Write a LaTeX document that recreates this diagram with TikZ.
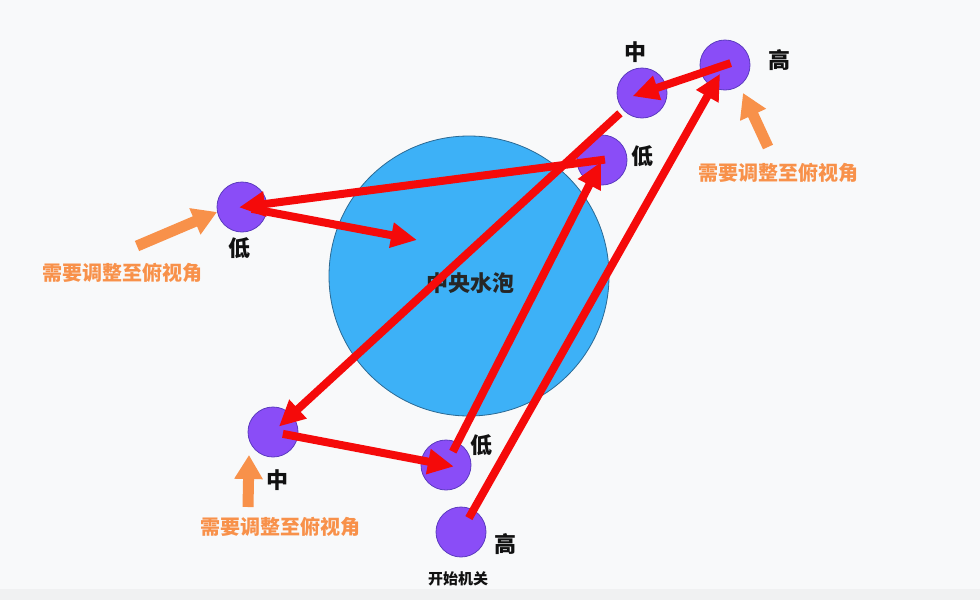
\documentclass[tikz,border=0pt]{standalone}
\usepackage{fontspec}
\newfontfamily\cjk{Noto Sans CJK SC}
\usetikzlibrary{arrows.meta}
\definecolor{bg}{HTML}{F8F9FA}
\definecolor{band}{HTML}{F0F1F2}
\definecolor{bubfill}{HTML}{3DB1F7}
\definecolor{bubline}{HTML}{2B6A94}
\definecolor{dotfill}{HTML}{8A4DF7}
\definecolor{dotline}{HTML}{5B3BBF}
\definecolor{arrred}{HTML}{F50A0A}
\definecolor{hintor}{HTML}{F8914A}
\definecolor{txt}{HTML}{111111}
\begin{document}
\begin{tikzpicture}[x=1pt,y=-1pt,
  dot/.style={circle,draw=dotline,fill=dotfill,line width=0.8pt,minimum size=50pt,inner sep=0pt},
  bubble/.style={circle,draw=bubline,fill=bubfill,line width=0.8pt,minimum size=280pt,inner sep=0pt},
  redarrow/.style={draw=arrred,line width=8pt,-{Triangle[length=26pt,width=24pt]}},
  hint/.style={draw=hintor,line width=11pt,-{Triangle[length=24pt,width=27pt]}},
  lbl/.style={text=txt,font=\cjk\bfseries\fontsize{22}{24}\selectfont,inner sep=0pt},
  hinttext/.style={text=hintor,font=\cjk\bfseries\fontsize{20}{22}\selectfont,inner sep=0pt},
  bubtext/.style={text=black!85,font=\cjk\bfseries\fontsize{22}{24}\selectfont,inner sep=0pt},
  starttext/.style={text=txt,font=\cjk\bfseries\fontsize{15}{17}\selectfont,inner sep=0pt}]
\useasboundingbox (0,0) rectangle (980,600);
\fill[bg] (0,0) rectangle (980,600);
\fill[band] (0,589) rectangle (980,600);

% central bubble
\node[bubble] (bub) at (469,276) {};
\node[bubtext] (bubt) at (470,283) {中央水泡};

% purple dots
\node[dot] (ht) at (725,65) {};
\node[dot] (mt) at (642,93) {};
\node[dot] (lur) at (602,160) {};
\node[dot] (ll) at (242,207) {};
\node[dot] (ml) at (273,432) {};
\node[dot] (lb) at (446,465) {};
\node[dot] (hb) at (461,532) {};

% labels
\node[lbl] (htl) at (779,60) {高};
\node[lbl] (mtl) at (635,52) {中};
\node[lbl] (lurl) at (642,156) {低};
\node[lbl] (lll) at (239,248) {低};
\node[lbl] (mll) at (277,480) {中};
\node[lbl] (lbl1) at (481,445) {低};
\node[lbl] (hbl) at (505,544) {高};
\node[starttext] (start) at (458,579) {开始机关};

% red arrows
\coordinate (inbub) at (417,240);
\draw[redarrow,shorten <=16pt,shorten >=10pt] (hb.center) -- (ht.center);
\draw[redarrow,shorten <=15pt,shorten >=2pt] (lb.center) -- (lur.center);
\draw[redarrow,shorten <=-3pt,shorten >=-3pt] (lur.center) -- (ll.center);
\draw[redarrow,shorten <=10pt] (ll.center) -- (inbub);
\draw[redarrow,shorten <=-6pt,shorten >=-10pt] (ht.center) -- (mt.center);
\draw[redarrow,shorten <=30pt,shorten >=8pt] (mt.center) -- (ml.center);
\draw[redarrow,shorten <=10pt,shorten >=-8pt] (ml.center) -- (lb.center);

% orange hints
\coordinate (h1s) at (768,147);
\coordinate (h1e) at (743,93);
\coordinate (h2s) at (137,246);
\coordinate (h2e) at (217,212);
\coordinate (h3s) at (248,507);
\coordinate (h3e) at (249,455);
\draw[hint] (h1s) -- (h1e);
\draw[hint] (h2s) -- (h2e);
\draw[hint] (h3s) -- (h3e);
\node[hinttext] (t1) at (778,173) {需要调整至俯视角};
\node[hinttext] (t2) at (122,273) {需要调整至俯视角};
\node[hinttext] (t3) at (280,527) {需要调整至俯视角};
\end{tikzpicture}
\end{document}
